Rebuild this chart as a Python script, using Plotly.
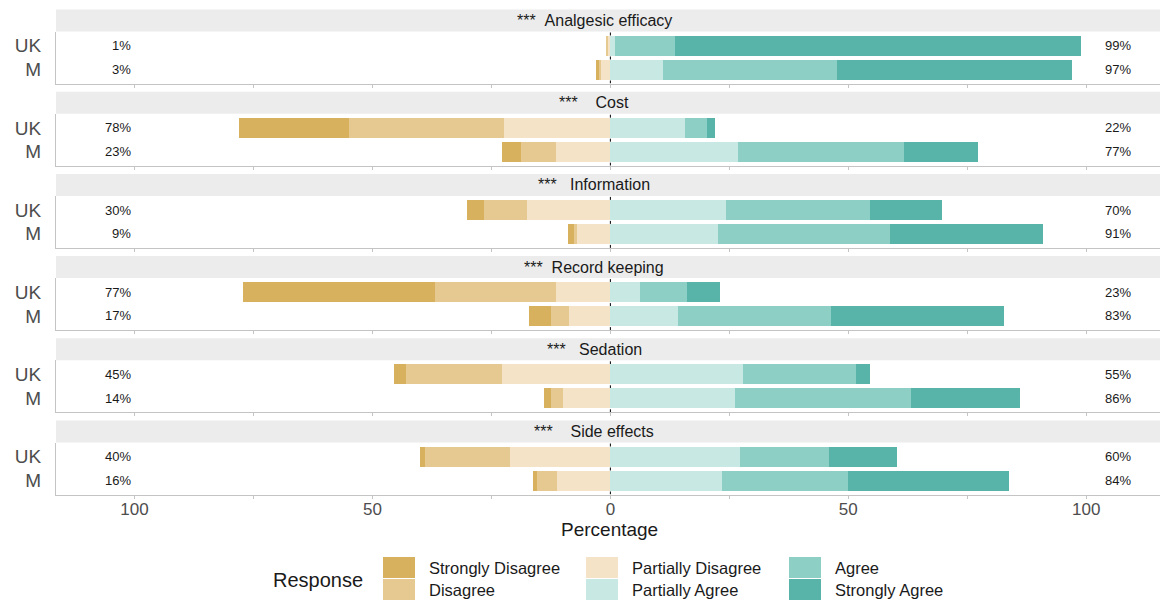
import plotly.graph_objects as go

# Survey items (facets) and respondent groups
items = ["Analgesic efficacy", "Cost", "Information", "Record keeping", "Sedation", "Side effects"]
strip_titles = [
    "***\u00a0\u00a0Analgesic efficacy",
    "***\u00a0\u00a0\u00a0\u00a0Cost",
    "***\u00a0\u00a0\u00a0Information",
    "***\u00a0\u00a0Record keeping",
    "***\u00a0\u00a0\u00a0Sedation",
    "***\u00a0\u00a0\u00a0\u00a0Side effects",
]
groups = ["UK", "M"]

responses = ["Strongly Disagree", "Disagree", "Partially Disagree",
             "Partially Agree", "Agree", "Strongly Agree"]
colors = {
    "Strongly Disagree": "#d8b15f",
    "Disagree": "#e5c991",
    "Partially Disagree": "#f4e3c7",
    "Partially Agree": "#c8e8e4",
    "Agree": "#8ecfc5",
    "Strongly Agree": "#58b3a8",
}

# Percentages per item, [UK, M]
strongly_disagree = [[0.0, 0.4], [23.1, 4.0], [3.6, 1.4], [40.3, 4.7], [2.4, 1.5], [1.0, 0.7]]
disagree = [[0.3, 0.6], [32.5, 7.3], [9.0, 0.6], [25.5, 3.9], [20.2, 2.4], [17.9, 4.3]]
partially_disagree = [[0.7, 2.0], [22.4, 11.4], [17.6, 7.0], [11.4, 8.6], [22.8, 10.0], [21.1, 11.2]]
partially_agree = [[1.0, 11.0], [15.6, 26.9], [24.4, 22.7], [6.2, 14.2], [27.8, 26.1], [27.3, 23.5]]
agree = [[12.5, 36.7], [4.6, 34.8], [30.2, 36.1], [10.0, 32.2], [23.8, 37.1], [18.7, 26.4]]
strongly_agree = [[85.5, 49.3], [1.8, 15.6], [15.0, 32.2], [6.8, 36.4], [3.0, 22.8], [14.2, 33.8]]

data = {
    "Strongly Disagree": strongly_disagree,
    "Disagree": disagree,
    "Partially Disagree": partially_disagree,
    "Partially Agree": partially_agree,
    "Agree": agree,
    "Strongly Agree": strongly_agree,
}
negative = ["Partially Disagree", "Disagree", "Strongly Disagree"]  # stacked outward from zero
positive = ["Partially Agree", "Agree", "Strongly Agree"]

tick_vals = [-100, -75, -50, -25, 0, 25, 50, 75, 100]
tick_text = ["100", "", "50", "", "0", "", "50", "", "100"]

W, H = 1160, 605
FONT = "Liberation Sans, Arial, sans-serif"
X_LEFT_PX = 56
X_RANGE = [-116.5, 115.5]
Y_RANGE = [-0.6, 1.6]
y_pos = [1, 0]  # UK above M


def px_x(px):
    return px / W


def px_y(py):
    return 1 - py / H


fig = go.Figure()
layout = dict(
    width=W, height=H,
    margin=dict(l=0, r=0, t=0, b=0),
    paper_bgcolor="white", plot_bgcolor="white",
    barmode="relative", bargap=0,
    showlegend=False,
    font=dict(family=FONT, color="#1a1a1a"),
)
shapes = []
annotations = []

for k, item in enumerate(items):
    sfx = "" if k == 0 else str(k + 1)
    xa, ya = "x" + sfx, "y" + sfx
    strip_top = 9.5 + 82.2 * k
    plot_top = strip_top + 22
    plot_bot = plot_top + 52

    for resp in negative:
        fig.add_trace(go.Bar(
            x=[-v for v in data[resp][k]], y=y_pos, orientation="h",
            width=0.86, marker=dict(color=colors[resp], line=dict(width=0)),
            name=resp, xaxis=xa, yaxis=ya, hoverinfo="skip"))
    for resp in positive:
        fig.add_trace(go.Bar(
            x=data[resp][k], y=y_pos, orientation="h",
            width=0.86, marker=dict(color=colors[resp], line=dict(width=0)),
            name=resp, xaxis=xa, yaxis=ya, hoverinfo="skip"))

    last = k == len(items) - 1
    layout["xaxis" + sfx] = dict(
        domain=[px_x(X_LEFT_PX), 1.0], range=X_RANGE, anchor=ya,
        showgrid=False, zeroline=False,
        showline=True, linecolor="#c4c4c4", linewidth=1,
        ticks="outside", ticklen=3, tickcolor="#c4c4c4",
        tickvals=tick_vals, ticktext=tick_text,
        showticklabels=last, ticklabelstandoff=-4,
        tickfont=dict(size=17, color="#4d4d4d", family=FONT),
    )
    layout["yaxis" + sfx] = dict(
        domain=[px_y(plot_bot), px_y(plot_top)], range=Y_RANGE, anchor=xa,
        showgrid=False, zeroline=False,
        showline=True, linecolor="#c4c4c4", linewidth=1,
        ticks="", tickvals=[1, 0], ticktext=groups,
        ticklabelstandoff=10,
        tickfont=dict(size=19, color="#4d4d4d", family=FONT),
    )

    # facet strip
    shapes.append(dict(type="rect", xref="paper", yref="paper",
                       x0=px_x(X_LEFT_PX), x1=1.0,
                       y0=px_y(plot_top), y1=px_y(strip_top),
                       fillcolor="#ececec", line=dict(width=0), layer="below"))
    annotations.append(dict(xref="paper", yref="paper",
                            x=px_x(594), y=px_y((strip_top + plot_top) / 2),
                            text=strip_titles[k], showarrow=False,
                            xanchor="center", yanchor="middle",
                            font=dict(size=16, color="#1a1a1a", family=FONT)))

    # dashed zero reference line
    shapes.append(dict(type="line", xref=xa, yref=ya, x0=0, x1=0,
                       y0=Y_RANGE[0], y1=Y_RANGE[1],
                       line=dict(color="black", width=1, dash="3px,3px"),
                       layer="below"))

    # totals of disagreement (left) and agreement (right)
    for g, yv in enumerate(y_pos):
        low = sum(data[r][k][g] for r in negative)
        high = sum(data[r][k][g] for r in positive)
        annotations.append(dict(xref=xa, yref=ya, x=-100.4, y=yv,
                                text=f"{round(low)}%", showarrow=False,
                                xanchor="right", yanchor="middle",
                                font=dict(size=13, color="#1a1a1a", family=FONT)))
        annotations.append(dict(xref=xa, yref=ya, x=106.7, y=yv,
                                text=f"{round(high)}%", showarrow=False,
                                xanchor="center", yanchor="middle",
                                font=dict(size=13, color="#1a1a1a", family=FONT)))

# x-axis title
annotations.append(dict(xref="paper", yref="paper", x=px_x(609), y=px_y(529),
                        text="Percentage", showarrow=False,
                        xanchor="center", yanchor="middle",
                        font=dict(size=19, color="#1a1a1a", family=FONT)))

# legend, two rows by three columns
annotations.append(dict(xref="paper", yref="paper", x=px_x(271), y=px_y(580),
                        text="Response", showarrow=False,
                        xanchor="left", yanchor="middle",
                        font=dict(size=20, color="#1a1a1a", family=FONT)))
legend_cols = [(383, ["Strongly Disagree", "Disagree"]),
               (586, ["Partially Disagree", "Partially Agree"]),
               (789, ["Agree", "Strongly Agree"])]
row_tops = [557, 579]
for col_x, names in legend_cols:
    for r, name in enumerate(names):
        top = row_tops[r]
        shapes.append(dict(type="rect", xref="paper", yref="paper",
                           x0=px_x(col_x), x1=px_x(col_x + 32),
                           y0=px_y(top + 21), y1=px_y(top),
                           fillcolor=colors[name], line=dict(width=0)))
        annotations.append(dict(xref="paper", yref="paper",
                                x=px_x(col_x + 44), y=px_y(top + 11),
                                text=name, showarrow=False,
                                xanchor="left", yanchor="middle",
                                font=dict(size=16.5, color="#1a1a1a", family=FONT)))

layout["shapes"] = shapes
layout["annotations"] = annotations
fig.update_layout(**layout)

fig.write_html("out.html")
